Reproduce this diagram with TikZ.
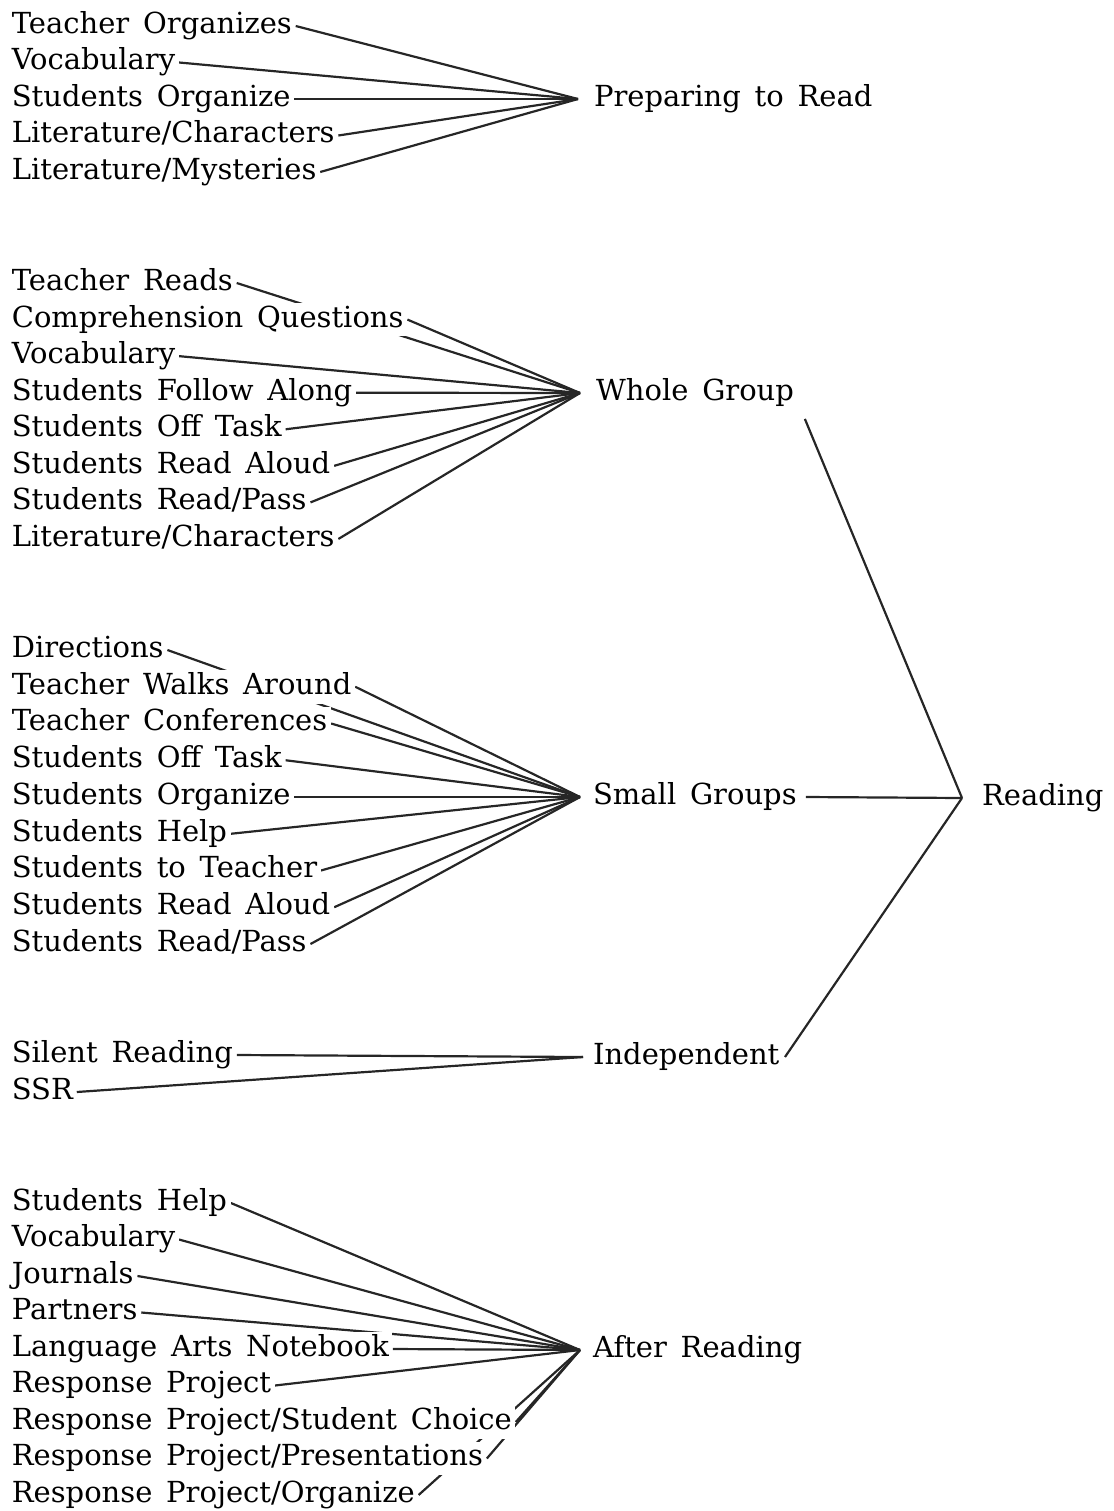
\documentclass[tikz,border=0pt]{standalone}
\usepackage{fontspec}
\setmainfont{DejaVu Serif}[WordSpace=1.5]
\usetikzlibrary{positioning,backgrounds}

\begin{document}
\begin{tikzpicture}[x=0.02cm, y=-0.02cm,
item/.style={anchor=west, fill=white, inner sep=2pt, font=\fontsize{16.5}{19}\selectfont,
text height=11.8pt, text depth=3.3pt}, grp/.style={item, inner sep=1pt},
spoke/.style={line width=1.25pt, black!85} ]
\useasboundingbox (0,0) rectangle (1114,1511);
% hubs where the spokes meet
\coordinate (hprep) at (578,99);
\coordinate (hwhole) at (580,393);
\coordinate (hsmall) at (580,797);
\coordinate (hindep) at (583,1057);
\coordinate (hafter) at (580,1350);
\coordinate (hread) at (962,798);
% left column
\foreach \t [count=\i from 0] in {Teacher Organizes, Vocabulary, Students Organize,
  Literature/Characters, Literature/Mysteries}
  \node[item] (p\i) at (8,{26+36.5*\i}) {\t};
\foreach \t [count=\i from 0] in {Teacher Reads, Comprehension Questions, Vocabulary,
  Students Follow Along, Students Off Task, Students Read Aloud, Students Read/Pass,
  Literature/Characters}
  \node[item] (w\i) at (8,{283+36.57*\i}) {\t};
\foreach \t [count=\i from 0] in {Directions, Teacher Walks Around, Teacher Conferences,
  Students Off Task, Students Organize, Students Help, Students to Teacher,
  Students Read Aloud, Students Read/Pass}
  \node[item] (s\i) at (8,{650+36.75*\i}) {\t};
\node[item] (i0) at (8,1055) {Silent Reading};
\node[item] (i1) at (8,1092) {SSR};
\foreach \t [count=\i from 0] in {Students Help, Vocabulary, Journals, Partners,
  Language Arts Notebook, Response Project, Response Project/Student Choice,
  Response Project/Presentations, Response Project/Organize}
  \node[item] (a\i) at (8,{1203+36.5*\i}) {\t};
% middle column
\node[grp, right=0.28cm of hprep] (prep) {Preparing to Read};
\node[grp, right=0.28cm of hwhole] (whole) {Whole Group};
\node[grp, right=0.22cm of hsmall] (small) {Small Groups};
\node[grp, right=0.16cm of hindep] (indep) {Independent};
\node[grp, right=0.22cm of hafter] (after) {After Reading};
\node[grp, right=0.36cm of hread] (reading) {Reading};
% spokes go under the labels
\begin{pgfonlayer}{background}
\foreach \i in {0,...,4} \draw[spoke] (p\i.east) -- (hprep);
\foreach \i in {0,...,7} \draw[spoke] (w\i.east) -- (hwhole);
\foreach \i in {0,...,8} \draw[spoke] (s\i.east) -- (hsmall);
\foreach \i in {0,1} \draw[spoke] (i\i.east) -- (hindep);
\foreach \i in {0,...,8} \draw[spoke] (a\i.east) -- (hafter);
\draw[spoke] ([xshift=5pt,yshift=-6pt]whole.south east) -- (hread);
\draw[spoke] ([xshift=4pt]small.east) -- (hread);
\draw[spoke] ([xshift=2pt]indep.east) -- (hread);
\end{pgfonlayer}
\end{tikzpicture}
\end{document}
